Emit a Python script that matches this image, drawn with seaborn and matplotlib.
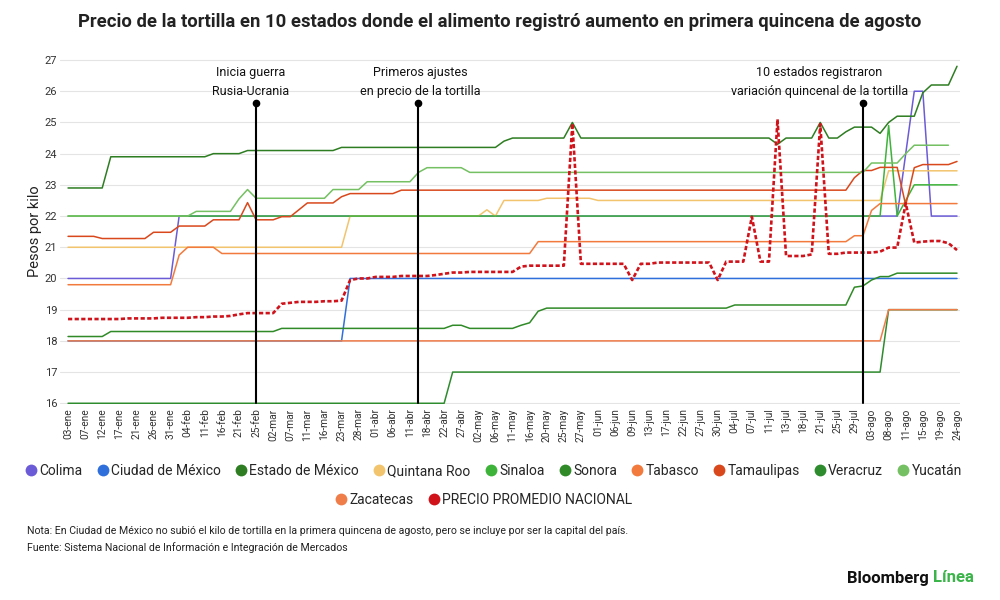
import numpy as np
import pandas as pd
import matplotlib
matplotlib.use("Agg")
import matplotlib.pyplot as plt
import seaborn as sns
from matplotlib.lines import Line2D

# --- Datos (un punto cada media etiqueta del eje) ---
fechas = ["03-ene", "07-ene", "12-ene", "17-ene", "21-ene", "26-ene", "31-ene",
          "04-feb", "11-feb", "16-feb", "21-feb", "25-feb",
          "02-mar", "07-mar", "11-mar", "16-mar", "23-mar", "28-mar",
          "01-abr", "06-abr", "11-abr", "18-abr", "22-abr", "27-abr",
          "02-may", "06-may", "11-may", "16-may", "20-may", "25-may", "27-may",
          "01-jun", "06-jun", "09-jun", "13-jun", "17-jun", "22-jun", "27-jun", "30-jun",
          "04-jul", "07-jul", "11-jul", "13-jul", "18-jul", "21-jul", "25-jul", "29-jul",
          "03-ago", "08-ago", "11-ago", "15-ago", "19-ago", "24-ago"]

colima = [20.0]*13 + [22.0]*85 + [24.0] + [26.0]*2 + [22.0]*4
cdmx = [18.0]*33 + [20.0]*72
edomex = ([22.9]*5 + [23.9]*12 + [24.0]*4 + [24.1]*11 + [24.2]*19 + [24.4] + [24.5]*7
          + [25.0] + [24.5]*23 + [24.3] + [24.5]*4 + [25.0] + [24.5]*2 + [24.7]
          + [24.85]*3 + [24.65] + [25.0] + [25.2]*3 + [25.95] + [26.2]*3 + [26.8])
quintana_roo = ([21.0]*33 + [22.0]*16 + [22.2] + [22.0] + [22.5]*5 + [22.57]*6
                + [22.5]*34 + [23.45]*9)
sinaloa = [22.0]*96 + [24.9] + [22.0] + [22.5] + [23.0]*6
sonora = ([18.14]*5 + [18.3]*20 + [18.4]*20 + [18.5]*2 + [18.4]*6 + [18.5] + [18.58]
          + [18.95] + [19.05]*22 + [19.15]*14 + [19.72] + [19.76] + [19.95]
          + [20.06]*2 + [20.17]*8)
tabasco = ([19.8]*13 + [20.75] + [21.0]*4 + [20.8]*37 + [21.18]*37 + [21.37]*2
           + [22.18] + [22.4]*10)
tamaulipas = ([21.35]*4 + [21.28]*6 + [21.48]*3 + [21.68]*4 + [21.88]*4 + [22.43]
              + [21.88]*3 + [21.98]*2 + [22.2] + [22.42]*4 + [22.62] + [22.72]*6
              + [22.83]*53 + [23.23] + [23.46]*2 + [23.56]*3 + [22.35] + [23.55]
              + [23.65]*4 + [23.75])
veracruz = [16.0]*45 + [17.0]*51 + [19.0]*9
yucatan = ([22.0]*15 + [22.15]*5 + [22.55] + [22.85] + [22.57]*9 + [22.85]*4
           + [23.1]*6 + [23.4] + [23.55]*5 + [23.4]*47 + [23.7]*4 + [24.0]
           + [24.27]*5 + [np.nan])
zacatecas = [18.0]*96 + [19.0]*9
nacional = ([18.7]*7 + [18.72]*4 + [18.74]*4 + [18.76]*2 + [18.78]*2 + [18.8] + [18.85]
            + [18.89]*4 + [19.19] + [19.22] + [19.25]*3 + [19.27]*2 + [19.29] + [19.95]
            + [20.0]*2 + [20.05]*3 + [20.08]*4 + [20.11] + [20.15] + [20.19]*2
            + [20.21]*6 + [20.38] + [20.41]*5 + [24.97] + [20.47]*6 + [19.95]
            + [20.47]*2 + [20.51]*7 + [19.95] + [20.54]*3 + [21.98] + [20.54]*2
            + [25.1] + [20.72]*3 + [20.77] + [24.95] + [20.79]*2 + [20.83]*4
            + [20.86] + [20.99]*2 + [22.41] + [21.15] + [21.18] + [21.2]*2
            + [21.13] + [20.91])

estados = ["Colima", "Ciudad de México", "Estado de México", "Quintana Roo", "Sinaloa",
           "Sonora", "Tabasco", "Tamaulipas", "Veracruz", "Yucatán", "Zacatecas",
           "PRECIO PROMEDIO NACIONAL"]
series = [colima, cdmx, edomex, quintana_roo, sinaloa, sonora, tabasco, tamaulipas,
          veracruz, yucatan, zacatecas, nacional]
colores = ["#6b5bd6", "#2f6fdc", "#2e7d22", "#f2c46d", "#3db33a", "#2f8a27",
           "#f27a3d", "#d9481c", "#2e8b2e", "#74c062", "#ef7d4a", "#d0121b"]

# eventos marcados con línea vertical (índice en la rejilla de medios pasos)
eventos = ["Inicia guerra\nRusia-Ucrania",
           "Primeros ajustes\nen precio de la tortilla",
           "10 estados registraron\nvariación quincenal de la tortilla"]
eventos_idx = [22, 41, 93]

# --- Tabla larga para seaborn ---
n = len(fechas) * 2 - 1
filas = []
for nombre, valores in zip(estados, series):
    assert len(valores) == n, nombre
    filas.append(pd.DataFrame({"i": np.arange(n), "precio": valores, "estado": nombre}))
df = pd.concat(filas, ignore_index=True)

sns.set_theme(style="white")
plt.rcParams["font.family"] = ["Roboto", "DejaVu Sans"]

fig = plt.figure(figsize=(10, 6), dpi=100)
ax = fig.add_axes([0.06, 0.3263, 0.9, 0.5752])

paleta = dict(zip(estados, colores))
anchos = {e: 1.1 for e in estados}
anchos["PRECIO PROMEDIO NACIONAL"] = 1.9
guiones = {e: "" for e in estados}
guiones["PRECIO PROMEDIO NACIONAL"] = (1.6, 0.9)

sns.lineplot(data=df, x="i", y="precio", hue="estado", hue_order=estados,
             palette=paleta, size="estado", sizes=anchos, size_order=estados,
             style="estado", dashes=guiones, style_order=estados,
             errorbar=None, legend=False, ax=ax)

# líneas de eventos
desplaza = [-0.6, 0.2, -5.1]
for texto, xi, dx in zip(eventos, eventos_idx, desplaza):
    ax.plot([xi, xi], [16, 25.62], color="black", lw=1.5, zorder=5)
    ax.plot([xi], [25.62], "o", color="black", ms=4.5, zorder=5)
    ax.text(xi + dx, 26.3, texto, ha="center", va="center", fontsize=9,
            color="#111", linespacing=1.55, zorder=6)

ax.set_xlim(-0.94, 104.35)
ax.set_ylim(15.97, 27.03)
ax.set_yticks(range(16, 28))
ax.set_xticks(range(0, n, 2))
ax.set_xticklabels(fechas, rotation=90)
ax.tick_params(axis="x", length=0, pad=3, labelsize=7.3, labelcolor="#333")
ax.tick_params(axis="y", length=0, pad=2, labelsize=8, labelcolor="#333")
ax.grid(axis="y", color="#e4e4e4", lw=0.8)
ax.grid(axis="x", visible=False)
ax.set_axisbelow(True)
for s in ax.spines.values():
    s.set_visible(False)
ax.set_xlabel("")
ax.set_ylabel("Pesos por kilo", fontsize=10.5, color="#222")
ax.yaxis.set_label_coords(-0.02, 0.5)

fig.text(0.5, 1 - 22 / 600,
         "Precio de la tortilla en 10 estados donde el alimento registró aumento en primera quincena de agosto",
         ha="center", va="center", fontsize=13.3, weight="bold", color="#222")

# leyenda en dos filas centradas
manijas = [Line2D([], [], marker="o", linestyle="none", markersize=8.5,
                  markerfacecolor=c, markeredgecolor="none") for c in colores]
fig.legend(manijas[:10], estados[:10], loc="center", bbox_to_anchor=(0.493, 1 - 471 / 600),
           ncol=10, frameon=False, fontsize=10, handletextpad=0.1, columnspacing=0.95,
           handlelength=1.0)
fig.legend(manijas[10:], estados[10:], loc="center", bbox_to_anchor=(0.483, 1 - 500 / 600),
           ncol=2, frameon=False, fontsize=10, handletextpad=0.1, columnspacing=0.95,
           handlelength=1.0)

fig.text(0.027, 1 - 531 / 600,
         "Nota: En Ciudad de México no subió el kilo de tortilla en la primera quincena de agosto, pero se incluye por ser la capital del país.",
         ha="left", va="center", fontsize=7.6, color="#222")
fig.text(0.027, 1 - 548 / 600,
         "Fuente: Sistema Nacional de Información e Integración de Mercados",
         ha="left", va="center", fontsize=7.6, color="#222")

fig.text(0.929, 1 - 578 / 600, "Bloomberg", ha="right", va="center",
         fontsize=12, weight="bold", color="#111")
fig.text(0.933, 1 - 578 / 600, "Línea", ha="left", va="center",
         fontsize=12, weight="bold", color="#3bb54a")

fig.savefig("out.png", dpi=100, facecolor="white")
